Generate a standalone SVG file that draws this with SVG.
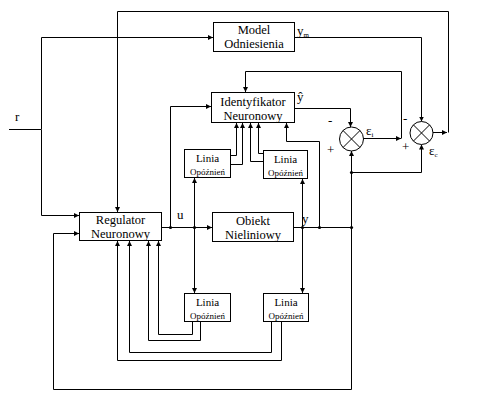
<svg xmlns="http://www.w3.org/2000/svg" width="479" height="405" viewBox="0 0 479 405">
<style>
.box{fill:#fff;stroke:#000;stroke-width:1}
.ln{fill:none;stroke:#000;stroke-width:1}
.a{marker-end:url(#arr)}
text{font-family:'Liberation Serif','Times New Roman','DejaVu Serif',serif;fill:#000}
.t{font-size:12.5px;text-anchor:middle}
.s{font-size:9px;text-anchor:middle}
.s1{font-size:11px;text-anchor:middle}
.l{font-size:13px}
</style>
<defs>
<marker id="arr" markerWidth="6" markerHeight="6" refX="5" refY="3" orient="auto" markerUnits="userSpaceOnUse">
<path d="M0,0.5 L5,3 L0,5.5 Z" fill="#000"/>
</marker>
</defs>
<rect width="479" height="405" fill="#fff"/>
<g id="connectors">
<path class="ln" d="M9 129.5 H41"/>
<path class="ln a" d="M41.5 129.5 V37.5 H213"/>
<path class="ln a" d="M41.5 129.5 V215.5 H79"/>
<path class="ln a" d="M295 37.5 H421.5 V121.5"/>
<path class="ln a" d="M433 132.5 H447"/>
<path class="ln a" d="M448.5 132.5 V11.5 H117.5 V212"/>
<path class="ln a" d="M351.5 389.5 V151"/>
<path class="ln a" d="M351.5 389.5 H53.5 V233.5 H79"/>
<path class="ln a" d="M162 227.5 H212"/>
<path class="ln a" d="M170.5 227.5 V106.5 H211"/>
<path class="ln a" d="M194.5 227.5 V178"/>
<path class="ln a" d="M194.5 227.5 V293"/>
<path class="ln a" d="M231 155.5 H236.5 V123"/>
<path class="ln a" d="M231 164.5 H242.5 V123"/>
<path class="ln a" d="M263 161.5 H250.5 V123"/>
<path class="ln a" d="M263 153.5 H258.5 V123"/>
<path class="ln a" d="M319.5 227.5 V141.5 H286.5 V123"/>
<path class="ln a" d="M302.5 227.5 V179"/>
<path class="ln a" d="M302.5 227.5 V293"/>
<path class="ln" d="M294 227.5 H351.5"/>
<path class="ln a" d="M295 108.5 H350.5 V127"/>
<path class="ln a" d="M363 138.5 H401"/>
<path class="ln a" d="M401.5 138.5 V71.5 H245.5 V92"/>
<path class="ln a" d="M351.5 172.5 H421.5 V144.5"/>
<path class="ln a" d="M192.5 322 V334.5 H158.5 V241"/>
<path class="ln a" d="M200.5 322 V340.5 H148.5 V241"/>
<path class="ln a" d="M271.5 322 V352.5 H129.5 V241"/>
<path class="ln a" d="M281.5 322 V360.5 H117.5 V241"/>
<g fill="#000">
<circle cx="170.5" cy="227.5" r="1.6"/>
<circle cx="194.5" cy="227.5" r="1.6"/>
<circle cx="302.5" cy="227.5" r="1.6"/>
<circle cx="319.5" cy="227.5" r="1.6"/>
<circle cx="351.5" cy="227.5" r="1.6"/>
<circle cx="351.5" cy="172.5" r="1.6"/>
</g>
</g>
<g id="model">
<rect class="box" x="213.5" y="22.5" width="81" height="29"/>
<text class="t" x="254" y="34">Model</text>
<text class="t" x="254" y="47.5">Odniesienia</text>
</g>
<g id="identyfikator">
<rect class="box" x="211.5" y="92.5" width="83" height="30"/>
<text class="t" x="253" y="106">Identyfikator</text>
<text class="t" x="253" y="119.5">Neuronowy</text>
</g>
<g id="regulator">
<rect class="box" x="79.5" y="212.5" width="82" height="28"/>
<text class="t" x="120.5" y="224">Regulator</text>
<text class="t" x="120.5" y="237.5">Neuronowy</text>
</g>
<g id="obiekt">
<rect class="box" x="212.5" y="212.5" width="81" height="29"/>
<text class="t" x="253" y="225">Obiekt</text>
<text class="t" x="253" y="238.5">Nieliniowy</text>
</g>
<g id="linia1">
<rect class="box" x="184.5" y="149.5" width="46" height="28"/>
<text class="s1" x="207.5" y="162">Linia</text>
<text class="s" x="207.5" y="175">Opóźnień</text>
</g>
<g id="linia2">
<rect class="box" x="263.5" y="150.5" width="44" height="28"/>
<text class="s1" x="285.5" y="163">Linia</text>
<text class="s" x="285.5" y="176">Opóźnień</text>
</g>
<g id="linia3">
<rect class="box" x="184.5" y="293.5" width="46" height="28"/>
<text class="s1" x="207.5" y="306">Linia</text>
<text class="s" x="207.5" y="319">Opóźnień</text>
</g>
<g id="linia4">
<rect class="box" x="263.5" y="293.5" width="45" height="28"/>
<text class="s1" x="286" y="306">Linia</text>
<text class="s" x="286" y="319">Opóźnień</text>
</g>
<g id="sum1">
<circle class="box" cx="351.5" cy="139" r="12"/>
<path class="ln" d="M343 130.5 L360 147.5 M360 130.5 L343 147.5"/>
</g>
<g id="sum2">
<circle class="box" cx="421.5" cy="133" r="11.5"/>
<path class="ln" d="M413.4 124.9 L429.6 141.1 M429.6 124.9 L413.4 141.1"/>
</g>
<g id="labels">
<text class="l" x="15" y="121">r</text>
<text class="l" x="177" y="219">u</text>
<text class="l" x="302" y="223">y</text>
<text class="l" x="297" y="101">ŷ</text>
<text class="l" x="297" y="35">y<tspan font-size="7" dy="2">m</tspan></text>
<text class="l" x="328" y="125">-</text>
<text class="l" x="327" y="154">+</text>
<text class="l" x="403" y="123">-</text>
<text class="l" x="402" y="151">+</text>
<text class="l" x="366" y="135">ε<tspan font-size="7" dy="2">i</tspan></text>
<text class="l" x="429" y="155">ε<tspan font-size="7" dy="2">c</tspan></text>
</g>
</svg>
